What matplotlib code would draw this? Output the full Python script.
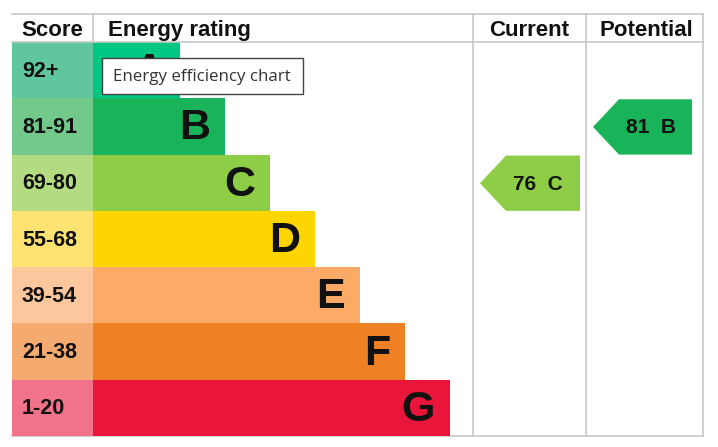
import matplotlib
matplotlib.use("Agg")
import matplotlib.pyplot as plt
from matplotlib.patches import Rectangle, Polygon

# ---- data ----
bands = ["A", "B", "C", "D", "E", "F", "G"]
score_labels = ["92+", "81-91", "69-80", "55-68", "39-54", "21-38", "1-20"]
band_colors = ["#00c781", "#19b459", "#8dce46", "#ffd500", "#fcaa65", "#ef8023", "#e9153b"]
score_colors = ["#5fc69e", "#73c98b", "#b3db81", "#fee373", "#fdc79d", "#f5aa70", "#f0728b"]
current_value, current_band = 76, "C"
potential_value, potential_band = 81, "B"
headers = ["Score", "Energy rating", "Current", "Potential"]
tooltip = "Energy efficiency chart"

W, H = 718, 447
fig = plt.figure(figsize=(W / 100, H / 100), dpi=100)
ax = fig.add_axes([0, 0, 1, 1])
ax.set_xlim(0, W)
ax.set_ylim(H, 0)
ax.axis("off")

FONT = ["Liberation Sans", "DejaVu Sans"]
grid = "#c8c8c8"
ink = "#111111"

left, score_right, rating_right, cur_right, right = 12, 93, 473, 586, 703
top, head_bottom, bottom = 14, 42, 436
row_h = (bottom - head_bottom) / len(bands)

# bars
base_w, step = 87, 45
for i, (b, sl, bc, sc) in enumerate(zip(bands, score_labels, band_colors, score_colors)):
    y0 = head_bottom + i * row_h
    ax.add_patch(Rectangle((left, y0), score_right - left, row_h, facecolor=sc, edgecolor="none", zorder=1))
    w = base_w + step * i
    ax.add_patch(Rectangle((score_right, y0), w, row_h, facecolor=bc, edgecolor="none", zorder=1))
    ax.text(22, y0 + row_h / 2 + 1, sl, fontsize=15.5, fontweight="bold", family=FONT,
            ha="left", va="center", color=ink, zorder=3)
    ax.text(score_right + w - 15, y0 + row_h / 2 + 2, b, fontsize=31, fontweight="bold",
            family=FONT, ha="right", va="center", color=ink, zorder=3)

# grid lines
ax.plot([left, right], [top, top], color=grid, lw=1.2, zorder=2)
ax.plot([left, right], [head_bottom, head_bottom], color=grid, lw=1.2, zorder=2)
ax.plot([left, right], [bottom, bottom], color=grid, lw=1.2, zorder=0.5)
ax.plot([score_right, score_right], [top, head_bottom], color=grid, lw=1.2, zorder=2)
for x in (rating_right, cur_right, right):
    ax.plot([x, x], [top, bottom], color=grid, lw=1.2, zorder=2)

# headers
hy = (top + head_bottom) / 2 + 2.5
hs = 16
ax.text((left + score_right) / 2, hy, headers[0], fontsize=hs, fontweight="bold", family=FONT,
        ha="center", va="center", color=ink)
ax.text(108, hy, headers[1], fontsize=hs, fontweight="bold", family=FONT,
        ha="left", va="center", color=ink)
ax.text((rating_right + cur_right) / 2, hy, headers[2], fontsize=hs, fontweight="bold", family=FONT,
        ha="center", va="center", color=ink)
ax.text((cur_right + right) / 2 + 2, hy, headers[3], fontsize=hs, fontweight="bold", family=FONT,
        ha="center", va="center", color=ink)

# arrows
def arrow(col_left, col_right, band, value, dx):
    i = bands.index(band)
    y0 = head_bottom + i * row_h + 1
    y1 = y0 + row_h - 1
    tip = col_left + 7
    body = tip + 26
    r = col_right - 6
    ym = (y0 + y1) / 2
    ax.add_patch(Polygon([(tip, ym), (body, y0), (r, y0), (r, y1), (body, y1)], closed=True,
                         facecolor=band_colors[i], edgecolor="none", zorder=2))
    ax.text((body + r) / 2 + dx, ym + 1, f"{value}  {band}", fontsize=15, fontweight="bold",
            family=FONT, ha="center", va="center", color=ink, zorder=3)

arrow(rating_right, cur_right, current_band, current_value, -5)
arrow(cur_right, right - 5, potential_band, potential_value, -4)

# tooltip
ax.add_patch(Rectangle((102, 58), 201, 36, facecolor="white", edgecolor="#444444", lw=1.0, zorder=10))
ax.text(113, 77, tooltip, fontsize=12.2, family=["Open Sans", "DejaVu Sans"], ha="left", va="center",
        color="#333333", zorder=11)

fig.savefig("out.png", dpi=100)
